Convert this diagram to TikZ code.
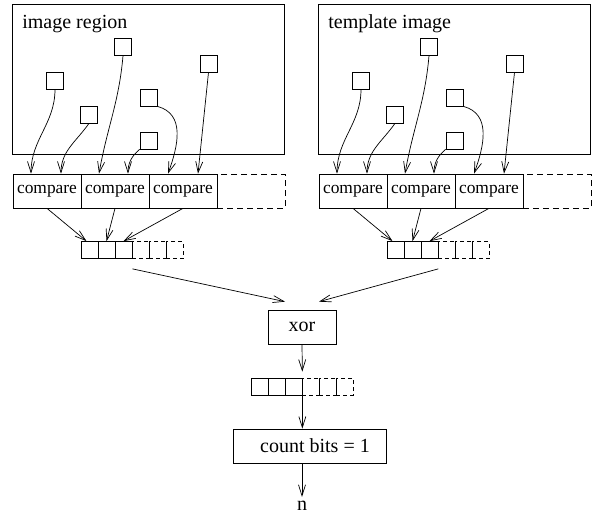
\documentclass[tikz,border=0pt]{standalone}
\usepackage{fontspec}
\setmainfont{Liberation Serif}
\usetikzlibrary{arrows.meta,calc}
\begin{document}
\begin{tikzpicture}[x=1pt,y=1pt,
  line width=0.7pt,
  arr/.style={-{Straight Barb[length=11pt,width=7pt]}},
  sq/.style={draw,minimum size=17pt,inner sep=0pt},
  cmp/.style={draw,minimum width=68pt,minimum height=34pt,inner sep=0pt,font=\fontsize{17.4}{20}\selectfont},
  bit/.style={draw,minimum size=17pt,inner sep=0pt},
  dcell/.style={dash pattern=on 6pt off 4pt},
  dbit/.style={dash pattern=on 4pt off 3pt},
  mainfont/.style={font=\fontsize{20}{24}\selectfont},
  frame/.style={draw,minimum width=272pt,minimum height=150pt,inner sep=0pt}]
\useasboundingbox (0,0) rectangle (597,-517);
\foreach \p/\dx/\t in {L/0/image region,R/306/template image}{
  \node[frame] (\p frame) at ({148.8+\dx},-79) {};
  \node[mainfont,anchor=base west,inner sep=0pt] (\p label) at ({22+\dx},-28) {\t};
  \node[sq] (\p s1) at ({55+\dx},-80.5) {};
  \node[sq] (\p s2) at ({89+\dx},-114.5) {};
  \node[sq] (\p s3) at ({123+\dx},-47) {};
  \node[sq] (\p s4) at ({148.5+\dx},-97.5) {};
  \node[sq] (\p s5) at ({148.5+\dx},-140.5) {};
  \node[sq] (\p s6) at ({208.5+\dx},-63.5) {};
  \node[cmp,dcell] (\p c4) at ({251+\dx},-191) {};
  \node[cmp] (\p c1) at ({47+\dx},-191) {compare};
  \node[cmp] (\p c2) at ({115+\dx},-191) {compare};
  \node[cmp] (\p c3) at ({183+\dx},-191) {compare};
  \node[bit,dbit] (\p b4) at ({140.5+\dx},-250) {};
  \node[bit,dbit] (\p b5) at ({157.5+\dx},-250) {};
  \node[bit,dbit] (\p b6) at ({174.5+\dx},-250) {};
  \node[bit] (\p b1) at ({89.5+\dx},-250) {};
  \node[bit] (\p b2) at ({106.5+\dx},-250) {};
  \node[bit] (\p b3) at ({123.5+\dx},-250) {};
  \draw[arr] (\p s1.south) to[out=-90,in=90] ([xshift=-16pt]\p c1.north);
  \draw[arr] (\p s2.south) to[out=-125,in=90] ([xshift=14pt]\p c1.north);
  \draw[arr] (\p s3.south) to[out=-95,in=80] ([xshift=-16pt]\p c2.north);
  \draw[arr] (\p s5.south west) to[out=-140,in=90] ([xshift=13pt]\p c2.north);
  \draw[arr] (\p s4.south east) to[out=-15,in=70,looseness=1.1] ([xshift=-15pt]\p c3.north);
  \draw[arr] (\p s6.south) -- ([xshift=15pt]\p c3.north);
  \draw[arr] (\p c1.south) -- ([xshift=-3pt]\p b1.north);
  \draw[arr] (\p c2.south) -- (\p b2.north);
  \draw[arr] (\p c3.south) -- (\p b3.north);
}
\node[draw,minimum width=68pt,minimum height=34pt,inner sep=0pt,mainfont] (xor) at (302,-327) {xor};
\draw[arr] ([yshift=-10pt]Lb3.south east) -- ([xshift=-17pt,yshift=8pt]xor.north);
\draw[arr] ([yshift=-10pt]Rb3.south east) -- ([xshift=17pt,yshift=8pt]xor.north);
\node[bit,dbit] (Cb4) at (310.5,-386.5) {};
\node[bit,dbit] (Cb5) at (327.5,-386.5) {};
\node[bit,dbit] (Cb6) at (344.5,-386.5) {};
\node[bit] (Cb1) at (259.5,-386.5) {};
\node[bit] (Cb2) at (276.5,-386.5) {};
\node[bit] (Cb3) at (293.5,-386.5) {};
\draw[arr] (xor.south) -- ([yshift=6pt]Cb3.north east);
\node[draw,minimum width=153pt,minimum height=34pt,inner sep=0pt,mainfont] (count) at (309.5,-446) {\hspace*{11pt}count bits = 1};
\draw[arr] (Cb3.south east) -- (Cb3.south east |- count.north);
\node[mainfont,inner sep=0pt] (n) at (302,-506) {n};
\draw[arr] (n |- count.south) -- ([yshift=4pt]n.north);
\end{tikzpicture}
\end{document}
